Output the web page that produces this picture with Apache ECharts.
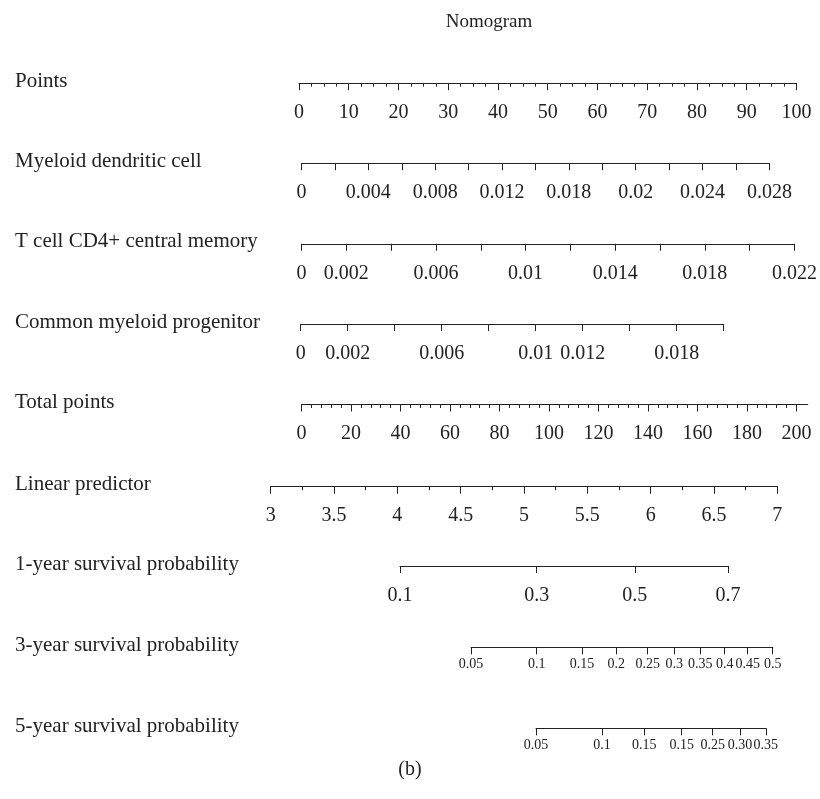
<!DOCTYPE html>
<html>
<head>
<meta charset="utf-8">
<script src="https://cdn.jsdelivr.net/npm/echarts@6/dist/echarts.min.js"></script>
<style>
  html, body { margin: 0; padding: 0; background: #fff; }
  #chart { width: 820px; height: 799px; }
</style>
</head>
<body>
<div id="chart"></div>
<script>
// Small helper for evenly spaced tick values
function range(a, b, step) {
  const out = [];
  const n = Math.round((b - a) / step);
  for (let i = 0; i <= n; i++) out.push(Math.round((a + i * step) * 1e6) / 1e6);
  return out;
}

// ---- Nomogram scales ----
const rowNames = [
  'Points',
  'Myeloid dendritic cell',
  'T cell CD4+ central memory',
  'Common myeloid progenitor',
  'Total points',
  'Linear predictor',
  '1-year survival probability',
  '3-year survival probability',
  '5-year survival probability'
];

const pointsTicks = range(0, 100, 10);
const pointsMinor = range(0, 100, 2.5);
const pointsLabelValues = range(0, 100, 10);
const pointsLabelTexts = pointsLabelValues.map(String);

const myeloidTicks = range(0, 0.028, 0.002);
const myeloidLabelValues = [0, 0.004, 0.008, 0.012, 0.016, 0.020, 0.024, 0.028];
const myeloidLabelTexts = ['0', '0.004', '0.008', '0.012', '0.018', '0.02', '0.024', '0.028'];

const tcellTicks = range(0, 0.022, 0.002);
const tcellLabelValues = [0, 0.002, 0.006, 0.010, 0.014, 0.018, 0.022];
const tcellLabelTexts = ['0', '0.002', '0.006', '0.01', '0.014', '0.018', '0.022'];

const cmpTicks = range(0, 0.018, 0.002);
const cmpLabelValues = [0, 0.002, 0.006, 0.010, 0.012, 0.016];
const cmpLabelTexts = ['0', '0.002', '0.006', '0.01', '0.012', '0.018'];

const totalTicks = range(0, 200, 20);
const totalMinor = range(0, 200, 4);
const totalMax = 204.6;
const totalLabelValues = range(0, 200, 20);
const totalLabelTexts = totalLabelValues.map(String);

const lpTicks = range(3, 7, 0.5);
const lpMinor = range(3, 7, 0.25);
const lpLabelValues = range(3, 7, 0.5);
const lpLabelTexts = lpLabelValues.map(String);

// Survival probability ticks, placed on the linear-predictor scale
const surv1Lp = [4.02, 5.10, 5.875, 6.61];
const surv1Texts = ['0.1', '0.3', '0.5', '0.7'];
const surv3Lp = [4.582, 5.100, 5.458, 5.729, 5.977, 6.187, 6.392, 6.585, 6.766, 6.964];
const surv3Texts = ['0.05', '0.1', '0.15', '0.2', '0.25', '0.3', '0.35', '0.4', '0.45', '0.5'];
const surv5Lp = [5.095, 5.616, 5.950, 6.245, 6.490, 6.706, 6.909];
const surv5Texts = ['0.05', '0.1', '0.15', '0.15', '0.25', '0.30', '0.35'];

// ---- Layout ----
const FONT = '"Liberation Serif", "DejaVu Serif", serif';
const INK = '#222';
const BIG = 20, SMALL = 14, NAME = 21;
const LP_X0 = 270.7, LP_X1 = 777.3, LP_MIN = 3, LP_MAX = 7;
function lpPx(v) { return LP_X0 + (v - LP_MIN) / (LP_MAX - LP_MIN) * (LP_X1 - LP_X0); }
function last(a) { return a[a.length - 1]; }

const TOTAL_X0 = 301.5, TOTAL_X200 = 796.4;

const rows = [
  { y: 83.2,  x0: 299.0, x1: 796.4, min: 0, max: 100, ticks: pointsTicks, minor: pointsMinor, lv: pointsLabelValues, lt: pointsLabelTexts, fs: BIG, margin: 19.5 },
  { y: 163.2, x0: 301.5, x1: 769.4, min: 0, max: 0.028, ticks: myeloidTicks, minor: null, lv: myeloidLabelValues, lt: myeloidLabelTexts, fs: BIG, margin: 19.5 },
  { y: 243.8, x0: 301.5, x1: 797.1, min: 0, max: 0.022, ticks: tcellTicks, minor: null, lv: tcellLabelValues, lt: tcellLabelTexts, fs: BIG, margin: 19.5 },
  { y: 324.0, x0: 300.7, x1: 723.7, min: 0, max: 0.018, ticks: cmpTicks, minor: null, lv: cmpLabelValues, lt: cmpLabelTexts, fs: BIG, margin: 19.5 },
  { y: 404.5, x0: TOTAL_X0, x1: TOTAL_X0 + (TOTAL_X200 - TOTAL_X0) * totalMax / 200, min: 0, max: totalMax, ticks: totalTicks, minor: totalMinor, lv: totalLabelValues, lt: totalLabelTexts, fs: BIG, margin: 19.5 },
  { y: 486.7, x0: LP_X0, x1: LP_X1, min: LP_MIN, max: LP_MAX, ticks: lpTicks, minor: lpMinor, lv: lpLabelValues, lt: lpLabelTexts, fs: BIG, margin: 19.5 },
  { y: 566.0, x0: lpPx(surv1Lp[0]), x1: lpPx(last(surv1Lp)), min: surv1Lp[0], max: last(surv1Lp), ticks: surv1Lp, minor: null, lv: surv1Lp, lt: surv1Texts, fs: BIG, margin: 19.5 },
  { y: 647.3, x0: lpPx(surv3Lp[0]), x1: lpPx(last(surv3Lp)), min: surv3Lp[0], max: last(surv3Lp), ticks: surv3Lp, minor: null, lv: surv3Lp, lt: surv3Texts, fs: SMALL, margin: 10 },
  { y: 728.3, x0: lpPx(surv5Lp[0]), x1: lpPx(last(surv5Lp)), min: surv5Lp[0], max: last(surv5Lp), ticks: surv5Lp, minor: null, lv: surv5Lp, lt: surv5Texts, fs: SMALL, margin: 10 }
];

const grid = [], xAxis = [], yAxis = [], graphic = [];

rows.forEach(function (r, i) {
  grid.push({ left: r.x0, width: r.x1 - r.x0, top: r.y - 10, height: 10, containLabel: false });
  yAxis.push({ gridIndex: i, type: 'value', show: false, min: 0, max: 1 });
  const lv = r.lv, lt = r.lt;
  xAxis.push({
    gridIndex: i,
    type: 'value',
    position: 'bottom',
    min: r.min,
    max: r.max,
    splitLine: { show: false },
    axisLine: { show: true, lineStyle: { color: INK, width: 1 } },
    axisTick: { show: true, length: 7, customValues: r.ticks, lineStyle: { color: INK, width: 1 } },
    axisLabel: {
      show: true,
      customValues: lv,
      margin: r.margin,
      color: INK,
      fontFamily: FONT,
      fontSize: r.fs,
      formatter: function (v) {
        let best = 0, d = Infinity;
        lv.forEach(function (x, k) { const e = Math.abs(x - v); if (e < d) { d = e; best = k; } });
        return lt[best];
      }
    }
  });
  if (r.minor) {
    xAxis.push({
      gridIndex: i,
      type: 'value',
      position: 'bottom',
      offset: 0,
      min: r.min,
      max: r.max,
      splitLine: { show: false },
      axisLine: { show: false },
      axisTick: { show: true, length: 3.5, customValues: r.minor, lineStyle: { color: INK, width: 1 } },
      axisLabel: { show: false }
    });
  }
  graphic.push({
    type: 'text',
    x: 15,
    y: r.y - 2,
    style: { text: rowNames[i], fill: INK, font: NAME + 'px ' + FONT, textAlign: 'left', textVerticalAlign: 'middle' }
  });
});

graphic.push({
  type: 'text', x: 489, y: 22,
  style: { text: 'Nomogram', fill: INK, font: '19px ' + FONT, textAlign: 'center', textVerticalAlign: 'middle' }
});
graphic.push({
  type: 'text', x: 410, y: 770,
  style: { text: '(b)', fill: INK, font: '20px ' + FONT, textAlign: 'center', textVerticalAlign: 'middle' }
});

const chart = echarts.init(document.getElementById('chart'), null, { renderer: 'canvas' });
chart.setOption({
  backgroundColor: '#fff',
  animation: false,
  grid: grid,
  xAxis: xAxis,
  yAxis: yAxis,
  graphic: graphic,
  series: []
});
</script>
</body>
</html>
